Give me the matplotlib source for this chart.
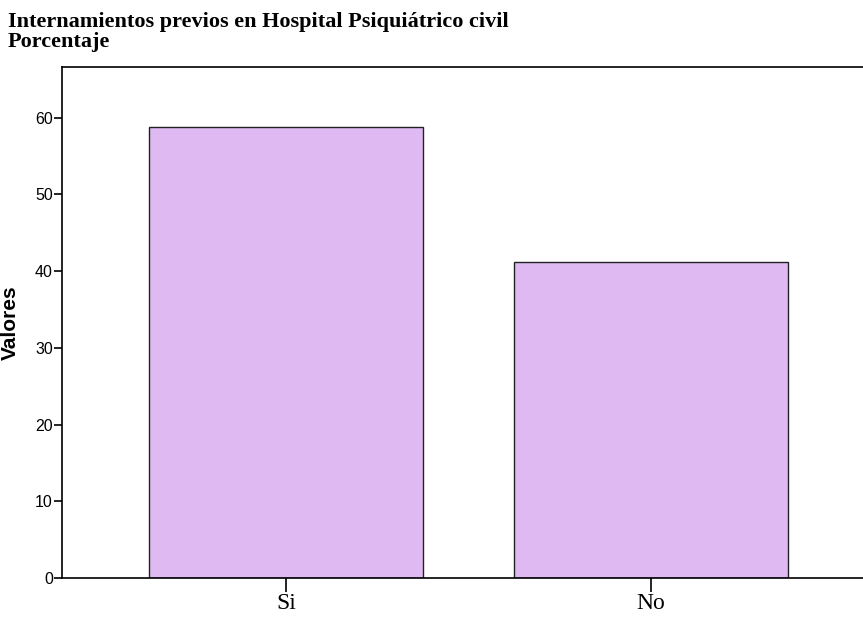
import matplotlib
matplotlib.use("Agg")
import matplotlib.pyplot as plt

categories = ["Si", "No"]
values = [58.8, 41.2]
yticks = [0, 10, 20, 30, 40, 50, 60]
title_lines = ["Internamientos previos en Hospital Psiquiátrico civil", "Porcentaje"]

fig = plt.figure(figsize=(8.63, 6.19), dpi=100)
ax = fig.add_axes([62/863, 1-578/619, 1-62/863, (578-67)/619])
x = range(len(categories))
ax.bar(x, values, width=0.753, color="#dfb9f2", edgecolor="#222222", linewidth=1.0, zorder=2)
ax.set_xlim(-0.614, 1.581)
ax.set_ylim(0, 66.6)
ax.set_xticks(list(x))
ax.set_xticklabels(categories, family="Liberation Serif", fontsize=17)
ax.set_yticks(yticks)
ax.set_yticklabels([str(t) for t in yticks], family="Liberation Sans", fontsize=11.5)
ax.tick_params(axis="y", length=6, width=1.2, pad=0.5)
ax.tick_params(axis="x", length=10, width=1.2, pad=1)
ax.spines["right"].set_visible(False)
for s in ["left", "top", "bottom"]:
    ax.spines[s].set_linewidth(1.2)
fig.text(10.5/863, 1-322.5/619, "Valores", family="Liberation Sans", fontweight="bold",
         fontsize=15, rotation=90, ha="center", va="center")
for i, line in enumerate(title_lines):
    fig.text(8/863, 1-(27+19.5*i)/619, line, family="Liberation Serif", fontweight="bold",
             fontsize=16, va="baseline", ha="left")
fig.savefig("out.png", dpi=100)
